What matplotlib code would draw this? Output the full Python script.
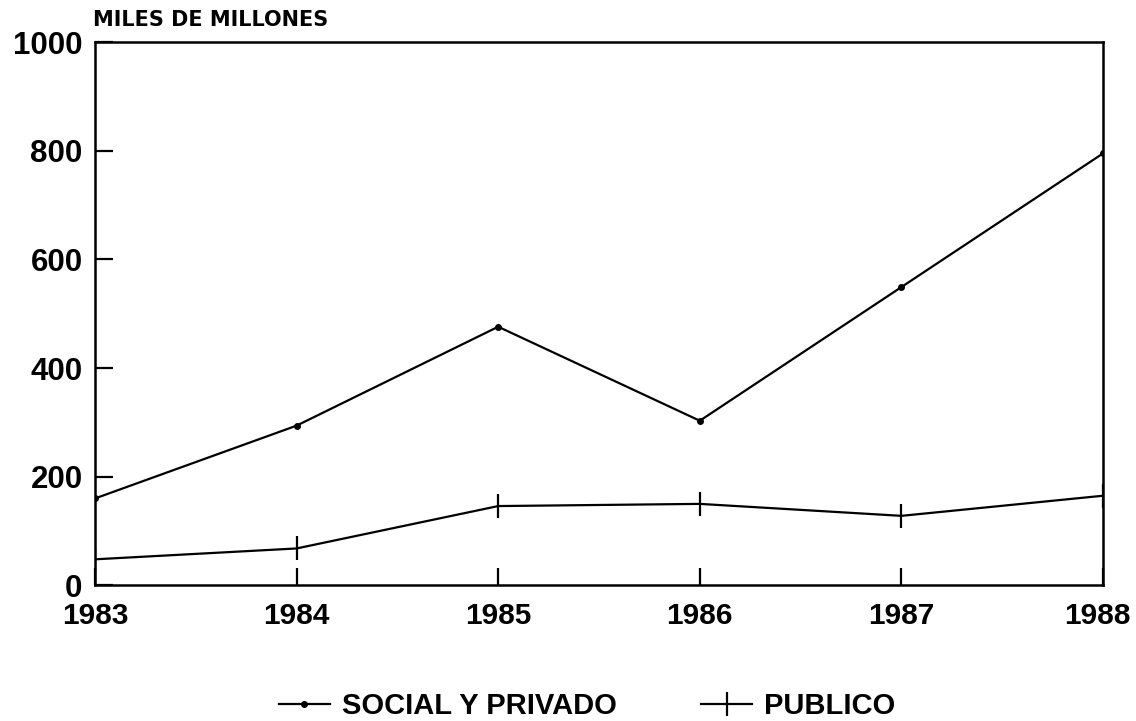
import matplotlib
matplotlib.use("Agg")
import matplotlib.pyplot as plt
from matplotlib.transforms import ScaledTranslation

years = [1983, 1984, 1985, 1986, 1987, 1988]
social_privado = [160, 294, 476, 303, 549, 795]
publico = [48, 68, 146, 150, 128, 165]
yticks = [0, 200, 400, 600, 800, 1000]
ylabel_text = "MILES DE MILLONES"
series_names = ["SOCIAL Y PRIVADO", "PUBLICO"]

plt.rcParams['font.family'] = ['Liberation Sans', 'DejaVu Sans']
plt.rcParams['font.weight'] = 'bold'

fig = plt.figure(figsize=(11.36, 7.21), dpi=100)
ax = fig.add_axes([95/1136, 1-585.4/721, (1103-95)/1136, (585.4-42)/721])

ax.plot(years, social_privado, color='black', lw=1.6, marker='o', ms=4,
        label=series_names[0])
ax.plot(years, publico, color='black', lw=1.6, marker='|', ms=17, mew=1.6,
        label=series_names[1])

ax.set_xlim(years[0], years[-1])
ax.set_ylim(0, 1000)
ax.set_xticks(years)
ax.set_yticks(yticks)
ax.tick_params(axis='both', direction='in', width=1.6, color='black')
ax.tick_params(axis='y', length=13, pad=9, labelsize=22.5)
ax.tick_params(axis='x', length=12, pad=12, labelsize=21.5)
for lab in ax.get_xticklabels() + ax.get_yticklabels():
    lab.set_fontweight('bold')
last = ax.get_xticklabels()[-1]
last.set_transform(last.get_transform() + ScaledTranslation(-6/100, 0, fig.dpi_scale_trans))
for s in ax.spines.values():
    s.set_linewidth(1.8)
    s.set_color('black')

fig.text(93/1136, 1-10/721, ylabel_text, fontsize=15, fontweight='bold',
         family='DejaVu Sans', ha='left', va='top')

fig.legend(loc='center', bbox_to_anchor=(587/1136, 1-706/721), ncol=2,
           frameon=False, handlelength=1.75, handletextpad=0.4,
           columnspacing=2.9, prop={'weight': 'bold', 'size': 21})

fig.savefig('out.png', dpi=100)
